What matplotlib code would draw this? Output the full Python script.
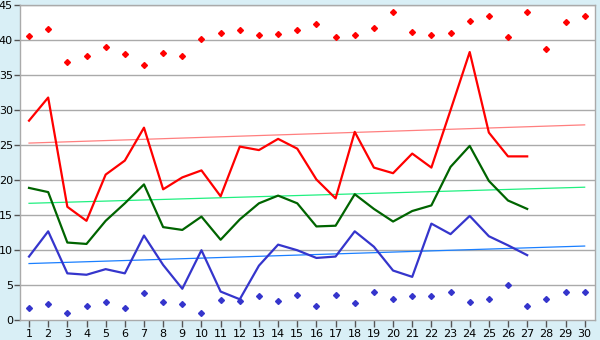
import matplotlib.pyplot as plt
import numpy as np

# day of month
days = list(range(1, 31))

# daily values (lines stop at day 27)
mean_vals = [28.5, 31.8, 16.2, 14.2, 20.8, 22.8, 27.5, 18.7, 20.4, 21.4,
             17.7, 24.8, 24.3, 25.9, 24.5, 20.1, 17.4, 26.9, 21.8, 21.0,
             23.8, 21.8, 30.0, 38.3, 26.8, 23.4, 23.4]
mid_vals = [18.9, 18.3, 11.1, 10.9, 14.2, 16.7, 19.4, 13.3, 12.9, 14.8,
            11.5, 14.4, 16.7, 17.8, 16.7, 13.4, 13.5, 18.0, 15.9, 14.1,
            15.6, 16.4, 21.9, 24.9, 19.9, 17.1, 15.9]
low_vals = [9.1, 12.7, 6.7, 6.5, 7.3, 6.7, 12.1, 7.9, 4.5, 10.0,
            4.1, 3.0, 7.8, 10.8, 10.0, 8.9, 9.1, 12.7, 10.5, 7.1,
            6.2, 13.8, 12.3, 14.9, 12.0, 10.7, 9.3]

# daily extremes (all 30 days)
max_pts = [40.6, 41.6, 36.9, 37.7, 39.0, 38.0, 36.4, 38.1, 37.7, 40.1,
           41.0, 41.4, 40.7, 40.9, 41.4, 42.3, 40.4, 40.7, 41.7, 44.0,
           41.1, 40.7, 41.0, 42.7, 43.4, 40.4, 44.0, 38.7, 42.6, 43.4]
min_pts = [1.8, 2.3, 1.1, 2.0, 2.6, 1.8, 3.9, 2.6, 2.3, 1.1,
           2.9, 2.7, 3.4, 2.7, 3.6, 2.1, 3.6, 2.4, 4.0, 3.1,
           3.4, 3.4, 4.1, 2.6, 3.0, 5.0, 2.0, 3.1, 4.1, 4.0]

# trend lines: value at day 1 and day 30
trend_days = [1, 30]
trend_mean = [25.3, 27.9]
trend_mid = [16.7, 19.0]
trend_low = [8.1, 10.6]

yticks = list(range(0, 50, 5))

fig = plt.figure(figsize=(6, 3.4), dpi=100, facecolor='#d9eff6')
ax = fig.add_axes([0.034, 0.058, 0.958, 0.927])
ax.set_facecolor('white')

for y in yticks[1:]:
    ax.axhline(y, color='#aaaaaa', lw=1.0, zorder=1)

ax.plot(trend_days, trend_mean, color='#ff7f7f', lw=0.9, zorder=2)
ax.plot(trend_days, trend_mid, color='#20f080', lw=0.9, zorder=2)
ax.plot(trend_days, trend_low, color='#1a7fff', lw=0.9, zorder=2)

n = len(mean_vals)
ax.plot(days[:n], mean_vals, color='#ff0000', lw=1.6, zorder=3)
ax.plot(days[:n], mid_vals, color='#006400', lw=1.6, zorder=3)
ax.plot(days[:n], low_vals, color='#3535cc', lw=1.6, zorder=3)

ax.plot(days, max_pts, ls='none', marker='D', ms=3.0, color='#ff0000', zorder=4)
ax.plot(days, min_pts, ls='none', marker='D', ms=3.0, color='#3535cc', zorder=4)

ax.set_xlim(0.55, 30.55)
ax.set_ylim(0, 45)
ax.set_xticks(days)
ax.set_yticks(yticks)
ax.tick_params(axis='x', direction='out', length=5, width=1, color='#555555',
               labelsize=8, pad=1.5)
ax.tick_params(axis='y', direction='out', length=4, width=1, color='#555555',
               labelsize=8, pad=1.5)

for side in ['left', 'bottom', 'right', 'top']:
    ax.spines[side].set_color('#aaaaaa')
    ax.spines[side].set_linewidth(1.0)

fig.savefig('out.png', dpi=100, facecolor=fig.get_facecolor())
